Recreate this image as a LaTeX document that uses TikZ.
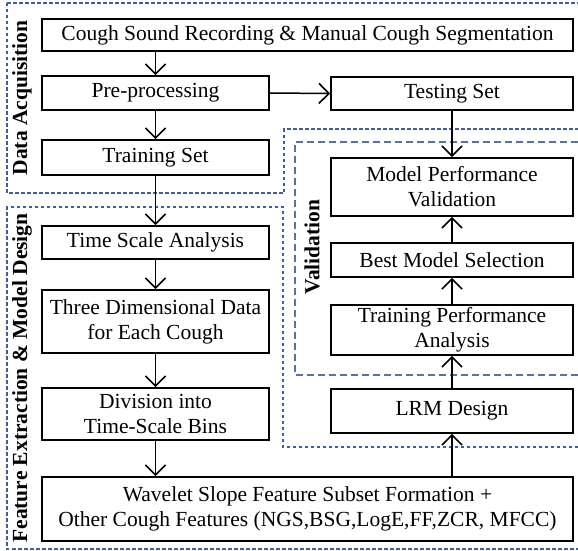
\documentclass[tikz,border=0pt]{standalone}
\usepackage{fontspec}
\setmainfont{Liberation Serif}
\usetikzlibrary{arrows.meta}
\definecolor{dashA}{RGB}{60,95,160}
\definecolor{dashB}{RGB}{85,115,170}
\begin{document}
\begin{tikzpicture}[x=1pt,y=-1pt,
  box/.style={draw=black,line width=1.8pt,rectangle,inner sep=0pt,align=center,
    font=\fontsize{21.5}{25}\selectfont},
  arr/.style={line width=1.5pt,-{Straight Barb[length=10pt,width=20pt,line width=1.6pt]}},
  grpA/.style={draw=dashA,line width=1.2pt,dash pattern=on 3.5pt off 2.5pt},
  grpB/.style={draw=dashB,line width=1.4pt,dash pattern=on 7pt off 4pt},
  lbl/.style={rotate=90,font=\fontsize{21.5}{25}\selectfont\bfseries,inner sep=0pt}]
\useasboundingbox (0,0) rectangle (578,551);
\fill[white] (0,0) rectangle (578,551);
% group outlines
\draw[grpA] (7,3) -- (578,3);
\draw[grpA] (7,3) -- (7,193) -- (284,193) -- (284,129) -- (578,129);
\draw[grpA] (578,447) -- (283,447) -- (283,207) -- (7,207) -- (7,549) -- (578,549);
\draw[grpB] (578,142) -- (295,142) -- (295,375) -- (578,375);
% group labels
\node[lbl] (lda) at (22,98) {Data Acquisition};
\node[lbl] (lfe) at (22,378) {Feature Extraction \& Model Design};
\node[lbl] (lva) at (312,247) {Validation};
% boxes
\node[box,minimum width=531pt,minimum height=32pt] (cough) at (307.5,35) {Cough Sound Recording \& Manual Cough Segmentation};
\node[box,minimum width=227pt,minimum height=34pt] (pre) at (155.5,93) {Pre-processing};
\node[box,minimum width=242pt,minimum height=33pt] (test) at (452,93.5) {Testing Set};
\node[box,minimum width=227pt,minimum height=35pt] (train) at (155.5,157.5) {Training Set};
\node[box,minimum width=227pt,minimum height=33pt] (tsa) at (155.5,242.5) {Time Scale Analysis};
\node[box,minimum width=227pt,minimum height=63pt] (three) at (155.5,321.5) {Three Dimensional Data\\for Each Cough};
\node[box,minimum width=227pt,minimum height=52pt] (div) at (155.5,414) {Division into\\Time-Scale Bins};
\node[box,minimum width=531pt,minimum height=64pt] (wave) at (307.5,509) {Wavelet Slope Feature Subset Formation +\\Other Cough Features (NGS,BSG,LogE,FF,ZCR, MFCC)};
\node[box,minimum width=242pt,minimum height=58pt] (mpv) at (452,187) {Model Performance\\Validation};
\node[box,minimum width=242pt,minimum height=34pt] (bms) at (452,260) {Best Model Selection};
\node[box,minimum width=242pt,minimum height=50pt] (tpa) at (452,330) {Training Performance\\Analysis};
\node[box,minimum width=242pt,minimum height=44pt] (lrm) at (452,411) {LRM Design};
% connectors
\draw[arr] (pre.north |- cough.south) -- (pre.north);
\draw[arr] (pre.south) -- (train.north);
\draw[arr] (pre.east) -- (test.west);
\draw[arr] (train.south) -- (tsa.north);
\draw[arr] (tsa.south) -- (three.north);
\draw[arr] (three.south) -- (div.north);
\draw[arr] (div.south) -- (div.south |- wave.north);
\draw[arr] (test.south) -- (mpv.north);
\draw[arr] (lrm.south |- wave.north) -- (lrm.south);
\draw[arr] (lrm.north) -- (tpa.south);
\draw[arr] (tpa.north) -- (bms.south);
\draw[arr] (bms.north) -- (mpv.south);
\end{tikzpicture}
\end{document}
